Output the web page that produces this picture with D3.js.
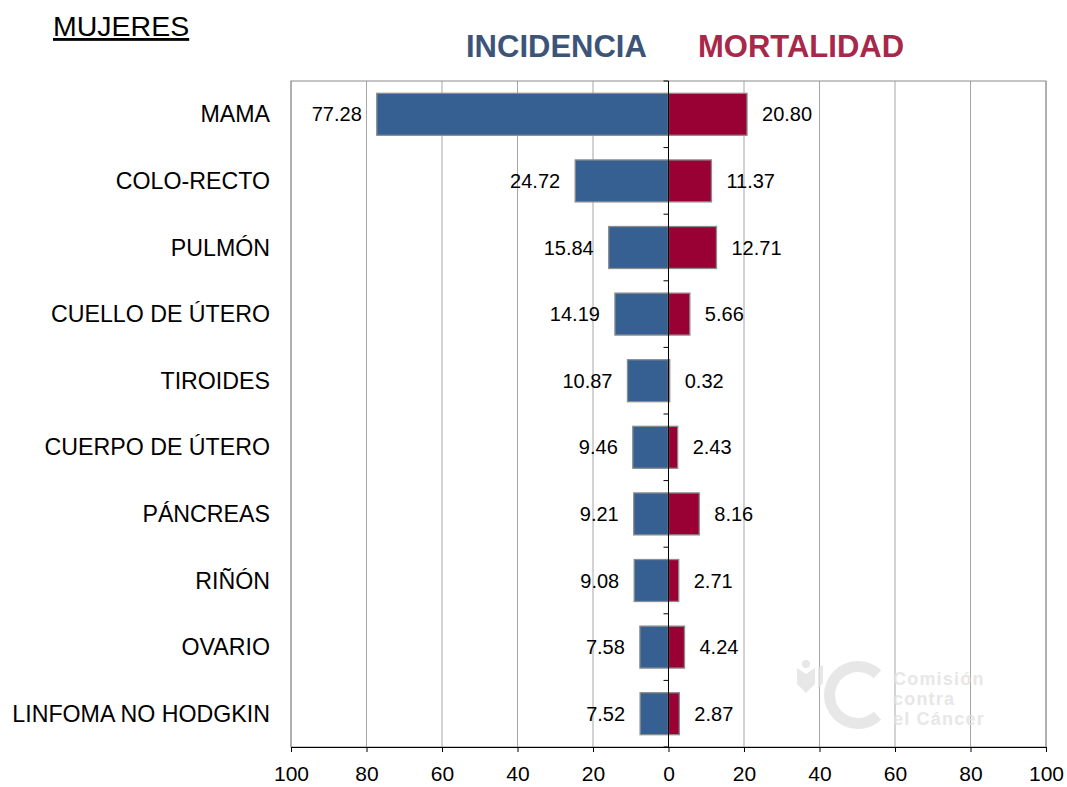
<!DOCTYPE html>
<html lang="es">
<head>
    <meta charset="UTF-8">
    <title>Mujeres - incidencia y mortalidad</title>
    <script src="https://d3js.org/d3.v7.min.js"></script>
    <style>
        body { margin: 0; background: #fff; }
        svg text { font-family: "Liberation Sans", Arial, sans-serif; }
    </style>
</head>
<body>
    <div id="chart"></div>

    <script>
        // data
        const categories = ["MAMA", "COLO-RECTO", "PULMÓN", "CUELLO DE ÚTERO", "TIROIDES",
            "CUERPO DE ÚTERO", "PÁNCREAS", "RIÑÓN", "OVARIO", "LINFOMA NO HODGKIN"];
        const incidencia = [77.28, 24.72, 15.84, 14.19, 10.87, 9.46, 9.21, 9.08, 7.58, 7.52];
        const mortalidad = [20.80, 11.37, 12.71, 5.66, 0.32, 2.43, 8.16, 2.71, 4.24, 2.87];
        const tickValues = [-100, -80, -60, -40, -20, 0, 20, 40, 60, 80, 100];

        const width = 1067, height = 787;
        const margin = {top: 81, right: 21, bottom: 40, left: 291};

        const svg = d3.select("#chart")
            .append("svg")
            .attr("width", width)
            .attr("height", height);

        const x = d3.scaleLinear()
            .domain([-100, 100])
            .range([margin.left, width - margin.right]);

        const y = d3.scaleBand()
            .domain(categories)
            .range([margin.top, height - margin.bottom])
            .paddingInner(0.37)
            .paddingOuter(0.185);

        const rowStep = (height - margin.bottom - margin.top) / categories.length;

        // grid lines
        svg.append("g")
            .selectAll("line")
            .data(tickValues.filter(d => d !== 0))
            .join("line")
            .attr("x1", d => x(d)).attr("x2", d => x(d))
            .attr("y1", margin.top).attr("y2", height - margin.bottom)
            .attr("stroke", "#a6a6a6")
            .attr("stroke-width", 1);

        // plot border
        svg.append("rect")
            .attr("x", x(-100)).attr("y", margin.top)
            .attr("width", x(100) - x(-100))
            .attr("height", height - margin.bottom - margin.top)
            .attr("fill", "none")
            .attr("stroke", "#8c8c8c");

        // watermark (logo)
        const wm = svg.append("g").attr("opacity", 0.8);
        wm.append("path")
            .attr("d", d3.arc()({innerRadius: 23, outerRadius: 34, startAngle: 0.76 * Math.PI, endAngle: 2.24 * Math.PI}))
            .attr("transform", "translate(858,695)")
            .attr("fill", "#e2e2e2");
        wm.append("path")
            .attr("d", "M797,668 l9,6 l9,-6 l0,16 l-9,9 l-9,-9 z M818,668 l5,-3 l0,18 l-5,6 z")
            .attr("fill", "#e2e2e2");
        wm.append("circle")
            .attr("cx", 806).attr("cy", 664).attr("r", 4)
            .attr("fill", "#e2e2e2");
        wm.selectAll("text")
            .data(["Comisión", "contra", "el Cáncer"])
            .join("text")
            .attr("x", 893)
            .attr("y", (d, i) => 685 + i * 20)
            .attr("font-size", 18)
            .attr("font-weight", "bold")
            .attr("letter-spacing", 1.2)
            .attr("fill", "#e2e2e2")
            .text(d => d);

        // bars incidencia (left)
        svg.append("g")
            .selectAll("rect")
            .data(categories)
            .join("rect")
            .attr("x", (d, i) => x(-incidencia[i]))
            .attr("y", d => y(d))
            .attr("width", (d, i) => x(0) - x(-incidencia[i]))
            .attr("height", y.bandwidth())
            .attr("fill", "#366092")
            .attr("stroke", "#8c8c8c")
            .attr("stroke-width", 1.3);

        // bars mortalidad (right)
        svg.append("g")
            .selectAll("rect")
            .data(categories)
            .join("rect")
            .attr("x", x(0))
            .attr("y", d => y(d))
            .attr("width", (d, i) => x(mortalidad[i]) - x(0))
            .attr("height", y.bandwidth())
            .attr("fill", "#990033")
            .attr("stroke", "#8c8c8c")
            .attr("stroke-width", 1.3);

        // zero axis with category ticks
        svg.append("line")
            .attr("x1", x(0)).attr("x2", x(0))
            .attr("y1", margin.top).attr("y2", height - margin.bottom)
            .attr("stroke", "#000");
        svg.append("g")
            .selectAll("line")
            .data(d3.range(categories.length + 1))
            .join("line")
            .attr("x1", x(0) - 5).attr("x2", x(0))
            .attr("y1", i => margin.top + i * rowStep)
            .attr("y2", i => margin.top + i * rowStep)
            .attr("stroke", "#000");

        // value labels
        svg.append("g")
            .selectAll("text")
            .data(categories)
            .join("text")
            .attr("x", (d, i) => x(-incidencia[i]) - 15)
            .attr("y", d => y(d) + y.bandwidth() / 2)
            .attr("dy", "0.35em")
            .attr("text-anchor", "end")
            .attr("font-size", 20)
            .text((d, i) => incidencia[i].toFixed(2));

        svg.append("g")
            .selectAll("text")
            .data(categories)
            .join("text")
            .attr("x", (d, i) => x(mortalidad[i]) + 15)
            .attr("y", d => y(d) + y.bandwidth() / 2)
            .attr("dy", "0.35em")
            .attr("font-size", 20)
            .text((d, i) => mortalidad[i].toFixed(2));

        // category labels
        svg.append("g")
            .selectAll("text")
            .data(categories)
            .join("text")
            .attr("x", 270)
            .attr("y", d => y(d) + y.bandwidth() / 2)
            .attr("dy", "0.35em")
            .attr("text-anchor", "end")
            .attr("font-size", 23.2)
            .text(d => d);

        // bottom axis
        const xAxis = d3.axisBottom(x)
            .tickValues(tickValues)
            .tickSize(5)
            .tickFormat(d => Math.abs(d));
        const gx = svg.append("g")
            .attr("transform", `translate(0,${height - margin.bottom})`)
            .call(xAxis);
        gx.select(".domain").attr("stroke", "#000");
        gx.selectAll(".tick line").attr("stroke", "#000");
        gx.selectAll(".tick text")
            .attr("font-size", 21)
            .attr("font-family", "\"Liberation Sans\", Arial, sans-serif")
            .attr("fill", "#000")
            .attr("dy", "1.25em");

        // titles
        svg.append("text")
            .attr("x", 53).attr("y", 36)
            .attr("font-size", 28.5)
            .attr("text-decoration", "underline")
            .text("MUJERES");
        svg.append("text")
            .attr("x", 466).attr("y", 57)
            .attr("font-size", 31)
            .attr("font-weight", "bold")
            .attr("fill", "#3d5479")
            .text("INCIDENCIA");
        svg.append("text")
            .attr("x", 698).attr("y", 57)
            .attr("font-size", 31)
            .attr("font-weight", "bold")
            .attr("fill", "#a8284a")
            .text("MORTALIDAD");
    </script>
</body>
</html>
